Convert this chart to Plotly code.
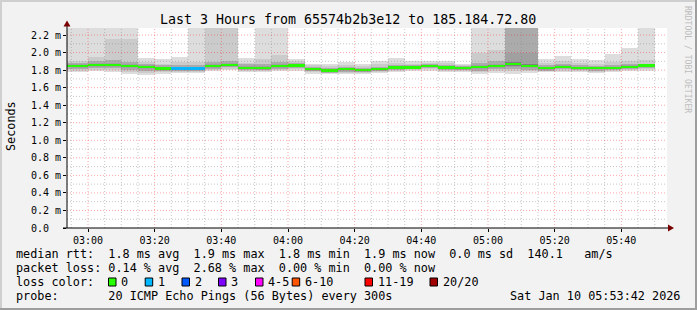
import pandas as pd
import plotly.graph_objects as go

# ---------------- data ----------------
title_text = "Last 3 Hours from 65574b2b3e12 to 185.184.72.80"
bar_end_times = pd.date_range("2026-01-10 02:55", "2026-01-10 05:50", freq="5min")
x_start = "2026-01-10 02:53:42"
x_end = "2026-01-10 05:53:42"

# smoke layers (ms): outermost (max) ... innermost upper, median, innermost lower ... min
smoke_u1 = [2.40, 2.40, 2.40, 2.40, 2.40, 1.94, 1.93, 1.955, 2.40, 2.40, 2.40, 1.935, 2.40, 2.40, 1.93, 1.875, 1.87, 1.89,
            1.87, 1.90, 1.935, 1.90, 1.905, 1.905, 1.865, 2.40, 2.40, 2.40, 2.40, 1.93, 1.96, 1.93, 1.91, 1.98, 2.05, 2.40]
smoke_u2 = [1.90, 1.90, 1.95, 2.16, 2.15, 1.89, 1.875, 1.89, 1.89, 2.40, 2.40, 1.885, 1.93, 1.97, 1.90, 1.855, 1.85, 1.86,
            1.85, 1.87, 1.885, 1.875, 1.885, 1.88, 1.855, 1.99, 2.03, 2.40, 2.40, 1.88, 1.90, 1.88, 1.875, 1.89, 1.90, 1.915]
smoke_u3 = [1.88, 1.88, 1.90, 1.91, 1.895, 1.87, 1.855, 1.86, 1.86, 1.89, 1.90, 1.865, 1.875, 1.89, 1.88, 1.835, 1.825, 1.84,
            1.825, 1.84, 1.86, 1.855, 1.87, 1.86, 1.845, 1.88, 1.90, 2.40, 2.40, 1.855, 1.87, 1.855, 1.85, 1.855, 1.87, 1.875]
smoke_u4 = [1.87, 1.865, 1.88, 1.885, 1.87, 1.855, 1.84, 1.84, 1.84, 1.87, 1.885, 1.85, 1.85, 1.865, 1.87, 1.825, 1.81, 1.825,
            1.812, 1.825, 1.845, 1.845, 1.86, 1.845, 1.835, 1.855, 1.87, 2.00, 2.00, 1.84, 1.855, 1.84, 1.84, 1.84, 1.855, 1.865]
smoke_u5 = [1.86, 1.857, 1.868, 1.873, 1.857, 1.843, 1.828, 1.828, 1.828, 1.858, 1.873, 1.838, 1.835, 1.855, 1.862, 1.818, 1.803, 1.816,
            1.804, 1.818, 1.838, 1.838, 1.853, 1.838, 1.828, 1.842, 1.858, 1.89, 1.87, 1.83, 1.847, 1.833, 1.833, 1.833, 1.847, 1.858]
median_ms = [1.850, 1.845, 1.855, 1.862, 1.845, 1.832, 1.818, 1.818, 1.818, 1.848, 1.862, 1.828, 1.825, 1.845, 1.853, 1.810, 1.795, 1.808,
             1.797, 1.810, 1.830, 1.830, 1.845, 1.830, 1.820, 1.832, 1.848, 1.865, 1.845, 1.822, 1.838, 1.825, 1.825, 1.825, 1.840, 1.852]
smoke_d5 = [1.84, 1.835, 1.845, 1.85, 1.835, 1.822, 1.808, 1.808, 1.808, 1.838, 1.852, 1.818, 1.815, 1.835, 1.843, 1.80, 1.787, 1.80,
            1.79, 1.80, 1.822, 1.822, 1.837, 1.822, 1.812, 1.822, 1.838, 1.85, 1.835, 1.814, 1.83, 1.817, 1.817, 1.817, 1.832, 1.843]
smoke_d4 = [1.83, 1.825, 1.835, 1.84, 1.82, 1.81, 1.80, 1.80, 1.80, 1.828, 1.84, 1.81, 1.805, 1.825, 1.835, 1.795, 1.78, 1.792,
            1.783, 1.795, 1.815, 1.815, 1.83, 1.815, 1.805, 1.81, 1.825, 1.835, 1.82, 1.805, 1.82, 1.81, 1.808, 1.81, 1.822, 1.835]
smoke_d3 = [1.815, 1.81, 1.82, 1.825, 1.805, 1.795, 1.79, 1.79, 1.79, 1.815, 1.83, 1.80, 1.80, 1.815, 1.825, 1.785, 1.772, 1.782,
            1.775, 1.788, 1.805, 1.808, 1.82, 1.805, 1.80, 1.795, 1.81, 1.815, 1.80, 1.795, 1.81, 1.80, 1.795, 1.80, 1.81, 1.825]
smoke_d2 = [1.80, 1.795, 1.80, 1.80, 1.78, 1.77, 1.775, 1.78, 1.78, 1.80, 1.815, 1.79, 1.79, 1.80, 1.81, 1.775, 1.765, 1.77,
            1.767, 1.78, 1.795, 1.80, 1.81, 1.795, 1.79, 1.78, 1.79, 1.79, 1.785, 1.785, 1.795, 1.79, 1.78, 1.79, 1.80, 1.81]
smoke_d1 = [1.78, 1.775, 1.785, 1.78, 1.755, 1.74, 1.755, 1.765, 1.765, 1.785, 1.80, 1.78, 1.78, 1.785, 1.795, 1.76, 1.755, 1.755,
            1.76, 1.77, 1.78, 1.785, 1.795, 1.78, 1.78, 1.75, 1.765, 1.76, 1.765, 1.775, 1.78, 1.775, 1.765, 1.775, 1.785, 1.795]
lost_pings = [0, 0, 0, 0, 0, 0, 0, 1, 1, 0, 0, 0, 0, 0, 0, 0, 0, 0,
              0, 0, 0, 0, 0, 0, 0, 0, 0, 0, 0, 0, 0, 0, 0, 0, 0, 0]

loss_labels = ["0", "1", "2", "3", "4-5", "6-10", "11-19", "20/20"]
loss_colors = ["#26ff00", "#00b8ff", "#0059ff", "#7e00ff", "#ff00ff", "#ff5500", "#ff0000", "#a10000"]
loss_upper = [0, 1, 2, 3, 5, 10, 19, 20]

y_tick_vals = [0.0, 0.2, 0.4, 0.6, 0.8, 1.0, 1.2, 1.4, 1.6, 1.8, 2.0, 2.2]
y_tick_text = ["0.0\u00a0\u00a0", "0.2\u00a0m", "0.4\u00a0m", "0.6\u00a0m", "0.8\u00a0m", "1.0\u00a0m",
               "1.2\u00a0m", "1.4\u00a0m", "1.6\u00a0m", "1.8\u00a0m", "2.0\u00a0m", "2.2\u00a0m"]

legend_rtt = "median rtt:  1.8 ms avg  1.9 ms max  1.8 ms min  1.9 ms now  0.0 ms sd  140.1   am/s"
legend_loss = "packet loss: 0.14 % avg  2.68 % max  0.00 % min  0.00 % now"
legend_color_title = "loss color:"
legend_probe = "probe:       20 ICMP Echo Pings (56 Bytes) every 300s"
legend_date = "Sat Jan 10 05:53:42 2026"
y_title = "Seconds"
watermark = "RRDTOOL / TOBI OETIKER"

# ---------------- layout geometry ----------------
W, H = 697, 310
PL, PR, PT, PB = 67, 667, 28, 228
Y_MAX = 2.28
MONO = "DejaVu Sans Mono"


def px(x):
    return (x - PL) / (PR - PL)


def py(y):
    return (PB - y) / (PB - PT)


def nb(s):
    return s.replace(" ", "\u00a0")


def loss_color(n):
    for up, c in zip(loss_upper, loss_colors):
        if n <= up:
            return c
    return loss_colors[-1]


fig = go.Figure()
BAR_W = 300000  # 5 min in ms

layers = [
    (smoke_d1, smoke_u1, "#dddddd"),
    (smoke_d2, smoke_u2, "#cbcbcb"),
    (smoke_d3, smoke_u3, "#ababab"),
    (smoke_d4, smoke_u4, "#a0a0a0"),
    (smoke_d5, smoke_u5, "#808080"),
]
for lo, hi, col in layers:
    fig.add_trace(go.Bar(
        x=bar_end_times, base=lo, y=[h - l for h, l in zip(hi, lo)],
        width=BAR_W, offset=-BAR_W, marker=dict(color=col, line=dict(width=0)),
        hoverinfo="skip", showlegend=False))

MED_H = 0.024
fig.add_trace(go.Bar(
    x=bar_end_times, base=[m - MED_H / 2 for m in median_ms], y=[MED_H] * len(median_ms),
    width=BAR_W, offset=-BAR_W,
    marker=dict(color=[loss_color(n) for n in lost_pings], line=dict(width=0)),
    hoverinfo="skip", showlegend=False))

shapes = []
# grid lines (drawn above the smoke, like rrdtool)
red_grid = "rgba(255,0,0,0.35)"
gray_grid = "rgba(128,128,128,0.45)"
grid_times = pd.date_range("2026-01-10 02:55", "2026-01-10 05:50", freq="5min")
for t in grid_times:
    major = (t.minute % 20 == 0)
    shapes.append(dict(type="line", xref="x", yref="paper", x0=t, x1=t, y0=0, y1=1,
                       line=dict(color=red_grid if major else gray_grid, width=1, dash="1px,2px"),
                       layer="above"))
for i in range(1, 23):
    v = i / 10
    major = (i % 2 == 0)
    shapes.append(dict(type="line", xref="paper", yref="y", x0=0, x1=1, y0=v, y1=v,
                       line=dict(color=red_grid if major else gray_grid, width=1, dash="1px,2px"),
                       layer="above"))

# axis lines and arrows
shapes.append(dict(type="line", xref="paper", yref="paper", x0=px(PL), x1=px(PL), y0=py(PB), y1=py(24),
                    line=dict(color="black", width=1), layer="above"))
shapes.append(dict(type="line", xref="paper", yref="paper", x0=px(63), x1=px(670), y0=py(PB), y1=py(PB),
                    line=dict(color="black", width=1), layer="above"))
shapes.append(dict(type="path", xref="paper", yref="paper",
                    path=f"M {px(63.5)},{py(26.5)} L {px(70.5)},{py(26.5)} L {px(67)},{py(20.5)} Z",
                    fillcolor="#7a0000", line=dict(width=0), layer="above"))
shapes.append(dict(type="path", xref="paper", yref="paper",
                    path=f"M {px(668)},{py(224.5)} L {px(668)},{py(231.5)} L {px(674)},{py(228)} Z",
                    fillcolor="#7a0000", line=dict(width=0), layer="above"))

# page frame (3D look)
shapes.append(dict(type="rect", xref="paper", yref="paper", x0=px(0), x1=px(W), y0=py(H), y1=py(0.5),
                    line=dict(width=0), fillcolor="rgba(0,0,0,0)", layer="below"))
shapes.append(dict(type="line", xref="paper", yref="paper", x0=px(0), x1=px(W), y0=py(1), y1=py(1),
                    line=dict(color="#cfcfcf", width=2)))
shapes.append(dict(type="line", xref="paper", yref="paper", x0=px(1), x1=px(1), y0=py(0), y1=py(H),
                    line=dict(color="#cfcfcf", width=2)))
shapes.append(dict(type="line", xref="paper", yref="paper", x0=px(0), x1=px(W), y0=py(H - 1), y1=py(H - 1),
                    line=dict(color="#9e9e9e", width=2)))
shapes.append(dict(type="line", xref="paper", yref="paper", x0=px(W - 1), x1=px(W - 1), y0=py(0), y1=py(H),
                    line=dict(color="#9e9e9e", width=2)))

# loss colour boxes
box_label_x = [120, 156.7, 193.5, 230, 267, 303.7, 376.5, 441.5]
for lx, col in zip(box_label_x, loss_colors):
    shapes.append(dict(type="rect", xref="paper", yref="paper",
                       x0=px(lx - 11.5), x1=px(lx - 4), y0=py(286), y1=py(278),
                       fillcolor=col, line=dict(color="black", width=1)))

annotations = []


def add_text(text, x, y, size, anchor="left", color="black", angle=0):
    annotations.append(dict(text=nb(text), x=px(x), y=py(y), xref="paper", yref="paper",
                            xanchor=anchor, yanchor="middle", showarrow=False, textangle=angle,
                            borderpad=0, font=dict(family=MONO, size=size, color=color)))


add_text(title_text, 347.5, 19, 13.3, anchor="center")
add_text(y_title, 11, 126, 11.8, anchor="center", angle=-90)
add_text(watermark, 688, 59, 8.1, anchor="center", color="#bdbdbd", angle=90)
add_text(legend_rtt, 15, 254, 11.8)
add_text(legend_loss, 15, 268.3, 11.8)
add_text(legend_color_title, 15, 282.3, 11.8)
for lx, lab in zip(box_label_x, loss_labels):
    add_text(lab, lx, 282.3, 11.8)
add_text(legend_probe, 15, 296, 11.8)
add_text(legend_date, 681, 296, 11.8, anchor="right")

fig.update_layout(
    width=W, height=H, autosize=False,
    margin=dict(l=PL, r=W - PR, t=PT, b=H - PB, pad=0),
    paper_bgcolor="#f2f2f2", plot_bgcolor="white",
    barmode="overlay", bargap=0, showlegend=False,
    shapes=shapes, annotations=annotations,
    font=dict(family=MONO, size=10, color="black"),
)
fig.update_xaxes(
    type="date", range=[x_start, x_end], showgrid=False, zeroline=False, showline=False,
    tickformat="%H:%M", dtick=1200000, tick0="2026-01-10 03:00",
    ticks="outside", ticklen=3, tickcolor="black", tickfont=dict(family=MONO, size=10, color="black"),
    fixedrange=True,
)
fig.update_yaxes(
    range=[0, Y_MAX], showgrid=False, zeroline=False, showline=False,
    tickvals=y_tick_vals, ticktext=y_tick_text,
    ticks="outside", ticklen=3, tickcolor="black", tickfont=dict(family=MONO, size=10, color="black"),
    fixedrange=True,
)

fig.write_html("out.html", config={"displayModeBar": False, "staticPlot": True})
